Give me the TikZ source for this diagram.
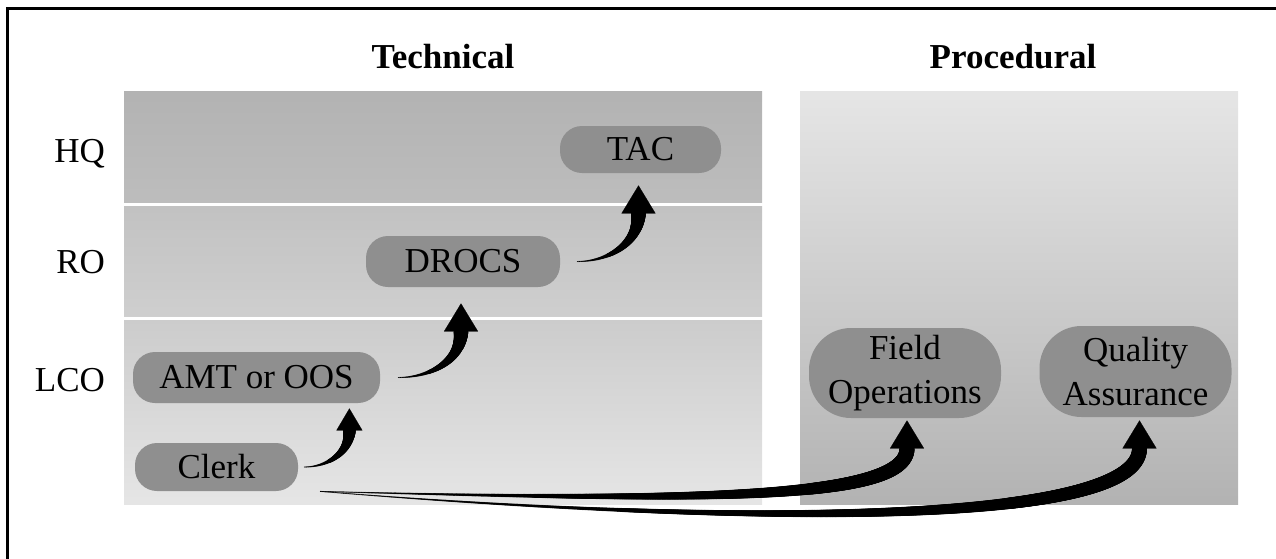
\documentclass[tikz,border=0pt]{standalone}
\usepackage{fontspec}
\setmainfont{Liberation Serif}
\usetikzlibrary{arrows.meta,decorations.markings}

\definecolor{hqtop}{gray}{0.70}
\definecolor{hqbot}{gray}{0.74}
\definecolor{rotop}{gray}{0.76}
\definecolor{robot}{gray}{0.81}
\definecolor{lcotop}{gray}{0.80}
\definecolor{lcobot}{gray}{0.90}
\definecolor{proctop}{gray}{0.90}
\definecolor{procbot}{gray}{0.70}
\definecolor{unitfill}{gray}{0.56}

\begin{document}
\begin{tikzpicture}[x=0.5pt, y=-0.5pt,
  every node/.style={font=\fontsize{17.5}{22}\selectfont, text=black},
  unit/.style={fill=unitfill, rounded corners=11pt, inner sep=0pt, minimum height=24pt},
  bigunit/.style={fill=unitfill, rounded corners=21pt, inner sep=0pt, minimum height=45pt, minimum width=96pt, align=center},
  level/.style={anchor=base east},
  heading/.style={anchor=base, font=\fontsize{17.5}{22}\selectfont\bfseries},
  flow/.style={draw=none, postaction={decorate},
    decoration={markings,
      mark=between positions 0 and 1 step 0.35pt with {%
        \pgfmathsetmacro\flowr{0.25+(#1-0.25)*(\pgfkeysvalueof{/pgf/decoration/mark info/distance from start}/\pgfdecoratedpathlength)^1.5}%
        \fill (0,0) circle (\flowr pt);}}},
  head/.style 2 args={line width=0.1pt, -{Triangle[width=#1, length=#2]}}
]
\useasboundingbox (0,0) rectangle (1276,558);
\draw[line width=1.5pt] (7,570) -- (7,8) -- (1290,8);
\shade[top color=hqtop, bottom color=hqbot] (124,91) rectangle (762,202);
\shade[top color=rotop, bottom color=robot] (124,206) rectangle (762,316);
\shade[top color=lcotop, bottom color=lcobot] (124,320) rectangle (762,504);
\shade[top color=proctop, bottom color=procbot] (800,91) rectangle (1238,504);
\node[heading] (technical) at (443,68) {Technical};
\node[heading] (procedural) at (1013,68) {Procedural};
\node[level] (hq) at (112,162) {HQ};
\node[level] (ro) at (112,273) {RO};
\node[level] (lco) at (112,391) {LCO};
\node[unit, minimum width=80.5pt, minimum height=23.5pt] (tac) at (640.5,149.5) {TAC};
\node[unit, minimum width=97pt, minimum height=25.5pt] (drocs) at (463,261.5) {DROCS};
\node[unit, minimum width=123.5pt, minimum height=25.5pt] (amt) at (256.5,377.5) {AMT or OOS};
\node[unit, minimum width=81.5pt] (clerk) at (216.5,467) {Clerk};
\node[bigunit] (field) at (905,373) {Field\\Operations};
\node[bigunit, minimum height=45.5pt] (qa) at (1135.5,371.5) {Quality\\Assurance};
\coordinate (amttip) at ([xshift=-15.5pt, yshift=-2.5pt]amt.south east);
\coordinate (amtbase) at ([yshift=-11pt]amttip);
\coordinate (drocstip) at ([xshift=-1pt, yshift=-8pt]drocs.south);
\coordinate (drocsbase) at ([yshift=-14pt]drocstip);
\coordinate (tactip) at ([xshift=-1pt, yshift=-6pt]tac.south);
\coordinate (tacbase) at ([yshift=-14pt]tactip);
\coordinate (fieldtip) at ([xshift=1pt, yshift=-1pt]field.south);
\coordinate (fieldbase) at ([yshift=-14pt]fieldtip);
\coordinate (qatip) at ([xshift=2pt, yshift=-1.5pt]qa.south);
\coordinate (qabase) at ([yshift=-14pt]qatip);
\draw[flow=3.2] ([xshift=3pt]clerk.east) to[out=0, in=-90] (amtbase);
\draw[head={13pt}{11pt}] (amtbase) -- (amttip);
\draw[flow=3.7] ([xshift=9pt]amt.east) to[out=0, in=-90] (drocsbase);
\draw[head={17pt}{14pt}] (drocsbase) -- (drocstip);
\draw[flow=3.7] ([xshift=8.5pt]drocs.east) to[out=0, in=-90] (tacbase);
\draw[head={17pt}{14pt}] (tacbase) -- (tactip);
\draw[flow=3.9] ([xshift=11pt]clerk.south east) .. controls +(380,10) and +(0,52) .. (fieldbase);
\draw[head={17pt}{14pt}] (fieldbase) -- (fieldtip);
\draw[flow=3.9] ([xshift=11pt]clerk.south east) .. controls +(430,35) and +(0,77) .. (qabase);
\draw[head={17pt}{14pt}] (qabase) -- (qatip);
\end{tikzpicture}
\end{document}
